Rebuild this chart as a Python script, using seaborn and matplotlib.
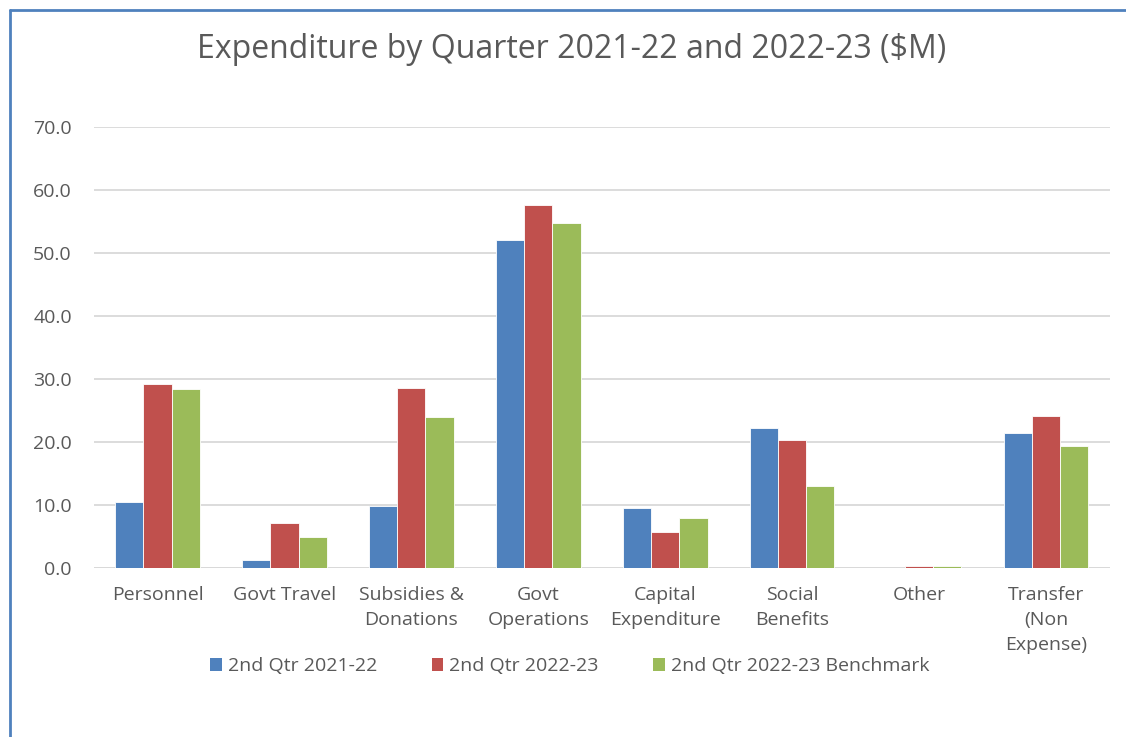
import pandas as pd
import matplotlib.pyplot as plt
import seaborn as sns
from matplotlib.lines import Line2D
from matplotlib.patches import Patch

# Chart data
categories = ['Personnel', 'Govt Travel', 'Subsidies &\nDonations', 'Govt\nOperations',
              'Capital\nExpenditure', 'Social\nBenefits', 'Other', 'Transfer\n(Non\nExpense)']
series_names = ['2nd Qtr 2021-22', '2nd Qtr 2022-23', '2nd Qtr 2022-23 Benchmark']
q2_2021_22 = [10.5, 1.2, 9.8, 52.1, 9.5, 22.3, 0.0, 21.5]
q2_2022_23 = [29.2, 7.2, 28.5, 57.6, 5.7, 20.3, 0.3, 24.2]
q2_2022_23_bench = [28.4, 5.0, 24.0, 54.8, 7.9, 13.0, 0.3, 19.4]
yticks = [0, 10, 20, 30, 40, 50, 60, 70]

colors = ['#4f81bd', '#c0504d', '#9bbb59']
text_color = '#595959'

df = pd.DataFrame({
    'category': categories * 3,
    'series': [s for s in series_names for _ in categories],
    'value': q2_2021_22 + q2_2022_23 + q2_2022_23_bench,
})

sns.set_style('white')
plt.rcParams['font.family'] = ['Open Sans', 'DejaVu Sans']

fig = plt.figure(figsize=(11.26, 7.37), dpi=100)
ax = fig.add_axes([0.0835, 0.2293, 0.902, 0.5984])

sns.barplot(data=df, x='category', y='value', hue='series', palette=colors,
            width=0.665, ax=ax, saturation=1, edgecolor='white', linewidth=0.6,
            legend=False)

ax.set_ylim(0, 70)
ax.set_xlim(-0.5, len(categories) - 0.5)
ax.set_yticks(yticks)
ax.set_yticklabels([f'{v:.1f}' for v in yticks])
ax.yaxis.grid(True, color='#d9d9d9', linewidth=1.3)
ax.set_axisbelow(True)
for side in ['top', 'right', 'left', 'bottom']:
    ax.spines[side].set_visible(False)
ax.axhline(0, color='#d9d9d9', linewidth=1.3, zorder=0)
ax.tick_params(axis='both', length=0, colors=text_color, labelsize=14)
ax.tick_params(axis='y', pad=16)
ax.tick_params(axis='x', pad=13)
for lbl in ax.get_xticklabels():
    lbl.set_linespacing(1.5)
ax.set_xlabel('')
ax.set_ylabel('')

fig.text(0.508, 0.933, 'Expenditure by Quarter 2021-22 and 2022-23 ($M)',
         ha='center', va='center', fontsize=23, color=text_color)

handles = [Patch(facecolor=c, edgecolor='none') for c in colors]
fig.legend(handles, series_names, loc='center', bbox_to_anchor=(0.506, 0.096),
           ncol=3, frameon=False, fontsize=14, labelcolor=text_color,
           handlelength=0.6, handleheight=0.6, handletextpad=0.3, columnspacing=2.8)

# outer chart border (top and left edges visible)
fig.add_artist(Line2D([0.009, 1.0], [0.986, 0.986], color='#4f81bd', linewidth=2,
                      transform=fig.transFigure))
fig.add_artist(Line2D([0.009, 0.009], [0.0, 0.986], color='#4f81bd', linewidth=2,
                      transform=fig.transFigure))

fig.savefig('out.png', dpi=100, facecolor='white')
